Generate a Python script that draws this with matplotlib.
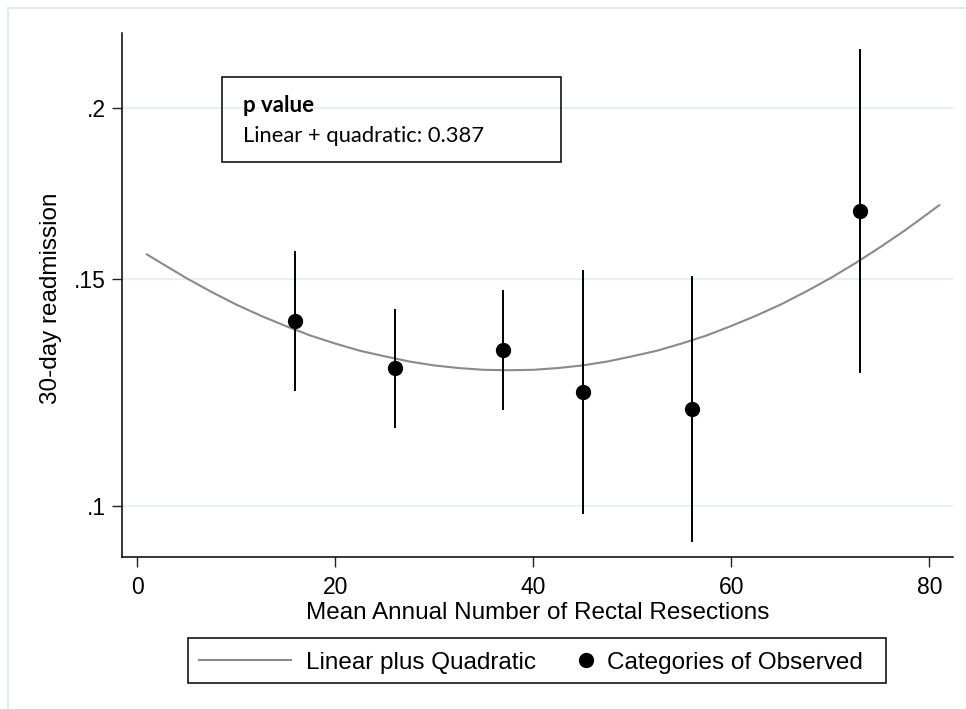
import matplotlib
matplotlib.use("Agg")
import matplotlib.pyplot as plt
from matplotlib.patches import Rectangle
from matplotlib.lines import Line2D
from matplotlib.ticker import NullLocator

# Observed categories (mean annual volume vs 30-day readmission, with 95% CI)
volume = [16, 26, 37, 45, 56, 73]
readmit = [0.1394, 0.1283, 0.1325, 0.1229, 0.1192, 0.1685]
ci_low = [0.1232, 0.1153, 0.1190, 0.0985, 0.0936, 0.1272]
ci_high = [0.1575, 0.1423, 0.1471, 0.1523, 0.1508, 0.2198]

# Fitted linear + quadratic curve
fit_x = [1, 2.5, 5, 7.5, 10, 12.5, 15, 17.5, 20, 22.5, 25, 27.5, 30, 32.5, 35, 37.5,
         40, 42.5, 45, 47.5, 50, 52.5, 55, 57.5, 60, 62.5, 65, 67.5, 70, 72.5, 75,
         77.5, 80, 81]
fit_y = [0.1565, 0.1541, 0.1502, 0.1467, 0.1435, 0.1407, 0.1382, 0.1359, 0.1340,
         0.1323, 0.1310, 0.1298, 0.1289, 0.1283, 0.1279, 0.1278, 0.1279, 0.1283,
         0.1289, 0.1298, 0.1310, 0.1323, 0.1340, 0.1359, 0.1382, 0.1407, 0.1435,
         0.1467, 0.1502, 0.1541, 0.1584, 0.1630, 0.1681, 0.1702]

y_ticks = [0.1, 0.15, 0.2]
y_tick_labels = [".1", ".15", ".2"]
x_ticks = [0, 20, 40, 60, 80]

W, H = 966, 709
fig = plt.figure(figsize=(W / 100, H / 100), dpi=100)
plt.rcParams["font.family"] = ["Liberation Sans", "DejaVu Sans"]

def fx(px):
    return px / W

def fy(py):
    return 1 - py / H

# light outer graph-region border (only top and left visible)
fig.patches.append(Rectangle((fx(8), -0.5), 2, fy(8) + 0.5, transform=fig.transFigure,
                             fill=False, edgecolor="#e3ebee", lw=1.5))

ax = fig.add_axes([fx(121.7), fy(557.3), fx(953 - 121.7), (557.3 - 33) / H])
ax.set_yscale("logit")
ax.set_xlim(-1.545, 82.39)
ax.set_ylim(0.09098, 0.2256)

ax.plot(fit_x, fit_y, color="#8a8a8a", lw=1.5, zorder=2, solid_joinstyle="round")
ax.vlines(volume, ci_low, ci_high, color="black", lw=1.4, zorder=3)
ax.plot(volume, readmit, "o", color="black", ms=10, zorder=4)

ax.set_yticks(y_ticks, y_tick_labels)
ax.yaxis.set_minor_locator(NullLocator())
ax.set_xticks(x_ticks)
ax.grid(axis="y", color="#e8f0f2", lw=1.5, zorder=0)
ax.set_axisbelow(True)

for s in ["top", "right"]:
    ax.spines[s].set_visible(False)
for s in ["left", "bottom"]:
    ax.spines[s].set_linewidth(1.1)
ax.tick_params(axis="both", direction="out", length=7.2, width=1.0, labelsize=16.5, color="#222222")
ax.tick_params(axis="x", pad=6.3)
ax.tick_params(axis="y", pad=4.3)

fig.text(fx(537.4), fy(619.3), "Mean Annual Number of Rectal Resections",
         ha="center", va="baseline", fontsize=17.5)
fig.text(fx(51), fy(298), "30-day readmission", rotation=90,
         ha="center", va="center", fontsize=17.5)

# p value box
fig.patches.append(Rectangle((fx(222.3), fy(161.7)), fx(561 - 222.3), (161.7 - 77.3) / H,
                             transform=fig.transFigure, fill=False, edgecolor="black", lw=1.1))
fig.text(fx(243.3), fy(111.7), "p value", fontweight="bold", fontsize=16,
         family=["Lato", "DejaVu Sans"], va="baseline")
fig.text(fx(243.3), fy(142.3), "Linear + quadratic: 0.387", fontsize=15.8,
         family=["Lato", "DejaVu Sans"], va="baseline")

# legend below the plot
fig.patches.append(Rectangle((fx(188.3), fy(682.7)), fx(886 - 188.3), (682.7 - 637.7) / H,
                             transform=fig.transFigure, fill=False, edgecolor="black", lw=1.1))
fig.lines.append(Line2D([fx(199.3), fx(290.7)], [fy(659.7), fy(659.7)],
                        transform=fig.transFigure, color="#8a8a8a", lw=1.5))
fig.lines.append(Line2D([fx(585.7)], [fy(659.7)], transform=fig.transFigure,
                        marker="o", color="black", ms=10, ls="none"))
fig.text(fx(306), fy(669.3), "Linear plus Quadratic", fontsize=17.5, va="baseline")
fig.text(fx(606.7), fy(669.3), "Categories of Observed", fontsize=17.5, va="baseline")

fig.savefig("out.png", dpi=100, facecolor="white")
